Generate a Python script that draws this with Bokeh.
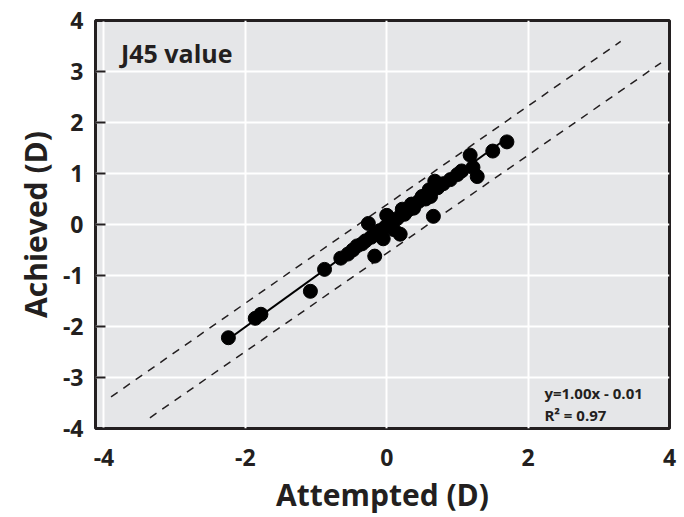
from bokeh.plotting import figure
from bokeh.models import Range1d, FixedTicker, ColumnDataSource
from bokeh.core.properties import value
from bokeh.embed import file_html
from bokeh.resources import INLINE

# Data
attempted = [-2.24, -1.86, -1.78, -1.08, -0.88, -0.65, -0.55, -0.48, -0.42, -0.35,
             -0.30, -0.26, -0.22, -0.17, -0.15, -0.10, -0.05, -0.02, 0.00, 0.03,
             0.08, 0.10, 0.15, 0.19, 0.22, 0.25, 0.30, 0.35, 0.38, 0.45,
             0.50, 0.55, 0.60, 0.62, 0.66, 0.68, 0.72, 0.80, 0.90, 1.00,
             1.06, 1.18, 1.22, 1.28, 1.50, 1.70]
achieved = [-2.22, -1.84, -1.76, -1.31, -0.88, -0.66, -0.58, -0.50, -0.42, -0.38,
            -0.32, 0.02, -0.25, -0.62, -0.18, -0.12, -0.28, -0.05, 0.18, -0.02,
            0.05, -0.10, 0.12, -0.19, 0.30, 0.20, 0.28, 0.40, 0.32, 0.45,
            0.55, 0.50, 0.68, 0.55, 0.16, 0.85, 0.72, 0.80, 0.88, 0.98,
            1.05, 1.36, 1.12, 0.94, 1.44, 1.62]

fit_slope = 1.00
fit_intercept = -0.01
fit_x = [min(attempted), max(attempted)]

upper_x = [-3.90, 3.31]
upper_y = [-3.38, 3.59]
lower_x = [-3.35, 3.88]
lower_y = [-3.79, 3.17]

ticks_x = [-4, -2, 0, 2, 4]
ticks_y = [-4, -3, -2, -1, 0, 1, 2, 3, 4]

FONT = "Open Sans"
DARK = "#231f20"

p = figure(width=684, height=517, output_backend="svg", toolbar_location=None,
           x_range=Range1d(-4.12, 4.0), y_range=Range1d(-4, 4),
           min_border_left=95, min_border_right=15, min_border_top=20,
           min_border_bottom=83)

p.background_fill_color = "#e5e6e8"
p.border_fill_color = "white"
p.outline_line_color = DARK
p.outline_line_width = 3

p.xgrid.ticker = FixedTicker(ticks=ticks_x)
p.ygrid.ticker = FixedTicker(ticks=ticks_y)
p.grid.grid_line_color = "white"
p.grid.grid_line_width = 2

p.xaxis.ticker = FixedTicker(ticks=ticks_x)
p.yaxis.ticker = FixedTicker(ticks=ticks_y)
p.xaxis.major_label_overrides = {t: str(t) for t in ticks_x}
p.yaxis.major_label_overrides = {t: str(t) for t in ticks_y}
p.axis.axis_line_color = None
p.axis.minor_tick_line_color = None
p.xaxis.major_tick_line_color = None
p.yaxis.major_tick_line_color = DARK
p.yaxis.major_tick_line_width = 2
p.yaxis.major_tick_in = 10
p.yaxis.major_tick_out = 0

p.axis.major_label_text_font = FONT
p.axis.major_label_text_font_style = "bold"
p.axis.major_label_text_font_size = "23px"
p.axis.major_label_text_color = DARK
p.xaxis.major_label_standoff = 14
p.yaxis.major_label_standoff = 12

p.xaxis.axis_label = "Attempted (D)"
p.yaxis.axis_label = "Achieved (D)"
p.axis.axis_label_text_font = FONT
p.axis.axis_label_text_font_style = "bold"
p.axis.axis_label_text_font_size = "30px"
p.axis.axis_label_text_color = DARK
p.xaxis.axis_label_standoff = 5
p.yaxis.axis_label_standoff = 4

# dashed bounds
p.line(upper_x, upper_y, line_color=DARK, line_width=1.5, line_dash="8 7")
p.line(lower_x, lower_y, line_color=DARK, line_width=1.5, line_dash="8 7")

# regression line
fit_y = [fit_slope * v + fit_intercept for v in fit_x]
p.line(fit_x, fit_y, line_color="black", line_width=2)

src = ColumnDataSource(dict(x=attempted, y=achieved))
p.scatter("x", "y", source=src, size=14, fill_color="black", line_color="black")

p.text(x=[-3.76], y=[3.36], text=["J45 value"], text_font=value(FONT),
       text_font_style="bold", text_font_size="25px", text_color=DARK,
       text_baseline="middle", text_align="left")

p.text(x=[2.23, 2.23], y=[-3.30, -3.73], text=["y=1.00x - 0.01", "R² = 0.97"],
       text_font=value(FONT), text_font_style="bold", text_font_size="15px",
       text_color=DARK, text_baseline="middle", text_align="left")

open("out.html", "w").write(file_html(p, INLINE))
